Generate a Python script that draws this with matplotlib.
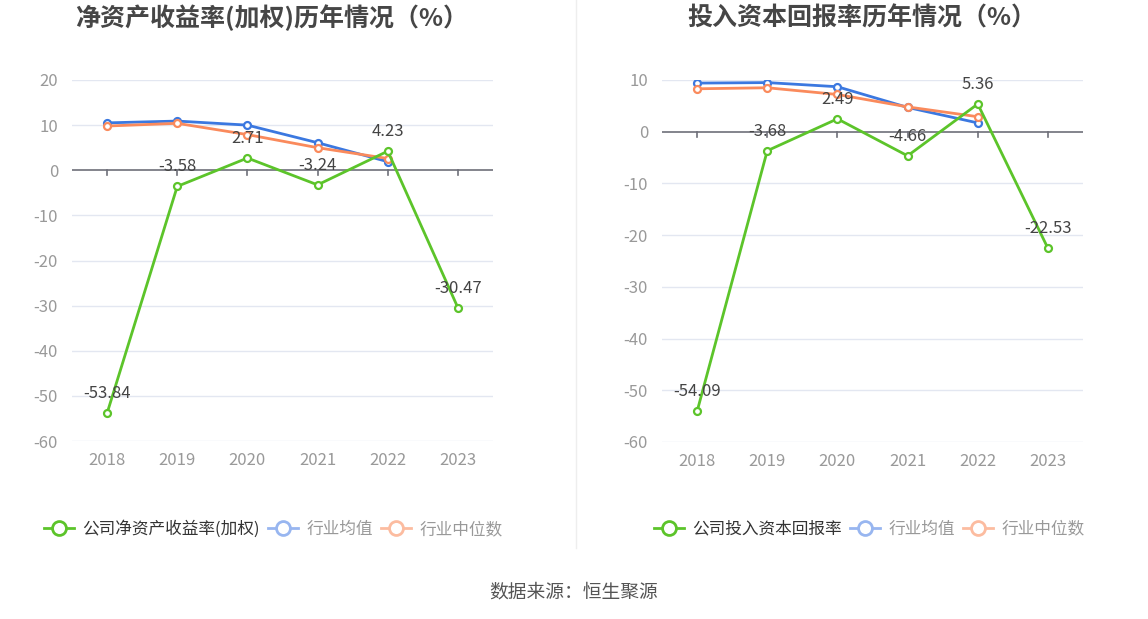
import matplotlib
matplotlib.use("Agg")
import matplotlib.pyplot as plt
from matplotlib.lines import Line2D

plt.rcParams['font.family'] = ['Noto Sans CJK SC', 'DejaVu Sans']

years = ['2018', '2019', '2020', '2021', '2022', '2023']

roe_company = [-53.84, -3.58, 2.71, -3.24, 4.23, -30.47]
roe_avg = [10.5, 10.9, 10.0, 6.1, 1.9]
roe_median = [9.8, 10.4, 7.9, 5.0, 2.6]

roic_company = [-54.09, -3.68, 2.49, -4.66, 5.36, -22.53]
roic_avg = [9.4, 9.5, 8.7, 4.7, 1.7]
roic_median = [8.3, 8.5, 7.2, 4.8, 2.9]

titles = ['净资产收益率(加权)历年情况（%）', '投入资本回报率历年情况（%）']
legend_names = [['公司净资产收益率(加权)', '行业均值', '行业中位数'],
                ['公司投入资本回报率', '行业均值', '行业中位数']]
source_text = '数据来源：恒生聚源'

GREEN = '#5cc42a'
BLUE = '#3b78e0'
ORANGE = '#fa8a5c'
BLUE_L = '#98b6f0'
ORANGE_L = '#fcbca0'

W, H = 1148, 619
fig = plt.figure(figsize=(W / 100, H / 100), dpi=100)


def fx(px):
    return px / W


def fy(py):
    return 1 - py / H


def draw(ax_rect, company, avg, median, ylim, yticks, title, title_x, names, legend_x):
    ax = fig.add_axes(ax_rect)
    x = list(range(len(years)))
    ax.set_xlim(-0.5, len(years) - 0.5)
    ax.set_ylim(*ylim)
    for sp in ax.spines.values():
        sp.set_visible(False)
    ax.set_yticks(yticks)
    ax.set_yticklabels([str(v) for v in yticks])
    ax.tick_params(axis='y', length=0, pad=10, labelsize=12, labelcolor='#999999')
    for v in yticks:
        if v != 0:
            ax.axhline(v, color='#e3e7f1', lw=1, zorder=0)
    ax.axhline(0, color='#6e7079', lw=1.2, zorder=1)
    for xi in x:
        ax.plot([xi, xi], [0, -(ylim[1] - ylim[0]) * 0.014], color='#6e7079', lw=1.2,
                zorder=1, clip_on=False)
    ax.set_xticks(x)
    ax.set_xticklabels(years)
    ax.tick_params(axis='x', length=0, pad=8, labelsize=12, labelcolor='#999999')

    mk = dict(marker='o', markersize=5, markerfacecolor='white', markeredgewidth=1.6)
    ax.plot(x[:len(avg)], avg, color=BLUE, lw=2, markeredgecolor=BLUE, zorder=3, **mk)
    ax.plot(x[:len(median)], median, color=ORANGE, lw=2, markeredgecolor=ORANGE, zorder=4, **mk)
    ax.plot(x, company, color=GREEN, lw=2, markeredgecolor=GREEN, zorder=5, **mk)
    for xi, v in zip(x, company):
        ax.annotate(f'{v:.2f}', (xi, v), xytext=(0, 14), textcoords='offset points',
                    ha='center', va='center', fontsize=12, color='#444444', zorder=6)

    fig.text(fx(title_x), fy(18), title, ha='center', va='center', fontsize=18,
             fontweight='bold', color='#464646')

    handles = [
        Line2D([], [], color=GREEN, lw=2, marker='o', markersize=10,
               markerfacecolor='white', markeredgewidth=2, markeredgecolor=GREEN),
        Line2D([], [], color=BLUE_L, lw=2, marker='o', markersize=10,
               markerfacecolor='white', markeredgewidth=2, markeredgecolor=BLUE_L),
        Line2D([], [], color=ORANGE_L, lw=2, marker='o', markersize=10,
               markerfacecolor='white', markeredgewidth=2, markeredgecolor=ORANGE_L),
    ]
    leg = fig.legend(handles, names, loc='center', bbox_to_anchor=(fx(legend_x), fy(529)),
                     ncol=3, frameon=False, fontsize=12, handlelength=1.8,
                     handletextpad=0.5, columnspacing=0.5)
    for i, t in enumerate(leg.get_texts()):
        t.set_color('#333333' if i == 0 else '#999999')
    return ax


draw([fx(72), fy(441), fx(421), (441 - 80) / H], roe_company, roe_avg, roe_median,
     (-60, 20), [20, 10, 0, -10, -20, -30, -40, -50, -60], titles[0], 272,
     legend_names[0], 273)
draw([fx(662), fy(442), fx(421), (442 - 80) / H], roic_company, roic_avg, roic_median,
     (-60, 10), [10, 0, -10, -20, -30, -40, -50, -60], titles[1], 862,
     legend_names[1], 869)

fig.add_artist(Line2D([fx(576), fx(576)], [fy(0), fy(548)], color='#eeeeee', lw=1))

fig.text(fx(574), fy(592), source_text, ha='center', va='center', fontsize=13.5, color='#555555')

fig.savefig('out.png', dpi=100, facecolor='white')
